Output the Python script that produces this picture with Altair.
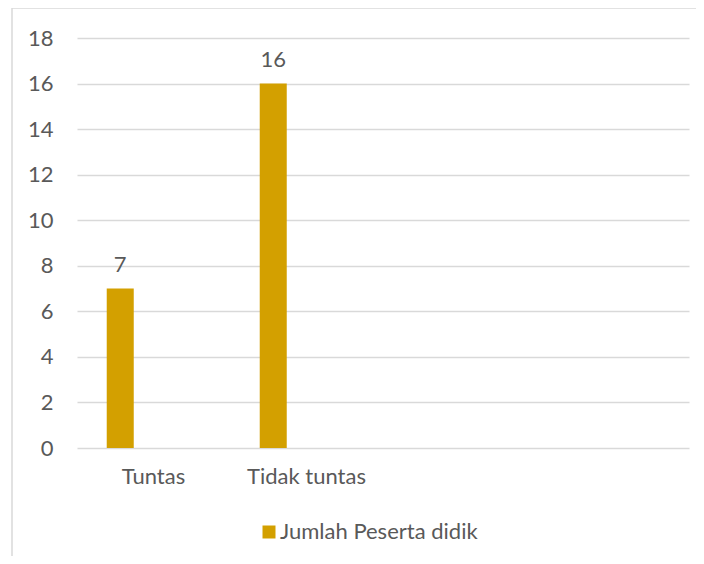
import altair as alt
import pandas as pd

# data
categories = ["Tuntas", "Tidak tuntas"]
values = [7, 16]
series_name = "Jumlah Peserta didik"
axis_categories = ["Tuntas", "Tidak tuntas", " ", "  "]
series_slots = [series_name, "Seri 2", "Seri 3"]
y_ticks = [0, 2, 4, 6, 8, 10, 12, 14, 16, 18]

df = pd.DataFrame({"kategori": categories, "nilai": values, "seri": [series_name] * len(categories)})

FONT = "Lato"
TXT = "#595959"
GRID = "#D9D9D9"
BAR = "#D3A000"
FS = 22

x_enc = alt.X("kategori:N", sort=axis_categories,
              scale=alt.Scale(domain=axis_categories, paddingInner=0, paddingOuter=0),
              axis=alt.Axis(title=None, labelAngle=0, ticks=False, domain=False,
                            labelPadding=18, labelFontSize=FS, labelFont=FONT,
                            labelColor=TXT))
xo_enc = alt.XOffset("seri:N", scale=alt.Scale(domain=series_slots, paddingInner=0.215,
                                                paddingOuter=0.831, align=0.52))
y_enc = alt.Y("nilai:Q", scale=alt.Scale(domain=[0, 18], nice=False),
              axis=alt.Axis(title=None, values=y_ticks, ticks=False, domain=False,
                            labelPadding=24, labelFontSize=FS, labelFont=FONT,
                            labelColor=TXT, grid=True, gridColor=GRID, gridWidth=1.5))

bars = alt.Chart(df).mark_bar().encode(
    x=x_enc, xOffset=xo_enc, y=y_enc,
    color=alt.Color("seri:N", scale=alt.Scale(domain=[series_name], range=[BAR]),
                    legend=alt.Legend(title=None, orient="none", legendX=181, legendY=483,
                                      symbolType="square", symbolSize=169,
                                      symbolStrokeWidth=0, labelFontSize=FS,
                                      labelFont=FONT, labelColor=TXT, labelOffset=0,
                                      labelLimit=0, padding=0)),
)

labels = alt.Chart(df).mark_text(baseline="alphabetic", dy=-17, fontSize=FS,
                                 font=FONT, color=TXT).encode(
    x=alt.X("kategori:N", sort=axis_categories), xOffset="seri:N", y="nilai:Q",
    text="nilai:Q",
)

one = pd.DataFrame({"a": [0]})
border_left = alt.Chart(one).mark_rule(color=GRID, strokeWidth=1.5).encode(
    x=alt.value(-65), y=alt.value(-30), y2=alt.value(518))
border_top = alt.Chart(one).mark_rule(color=GRID, strokeWidth=1.5).encode(
    x=alt.value(-65), x2=alt.value(619), y=alt.value(-30))

chart = alt.layer(border_left, border_top, bars, labels).properties(
    width=612, height=410,
    autosize=alt.AutoSizeParams(type="none"),
    padding={"left": 69, "top": 30, "right": 7, "bottom": 108},
).configure_view(stroke=None)

chart.save("out.html", embed_options={"renderer": "svg", "actions": False})
